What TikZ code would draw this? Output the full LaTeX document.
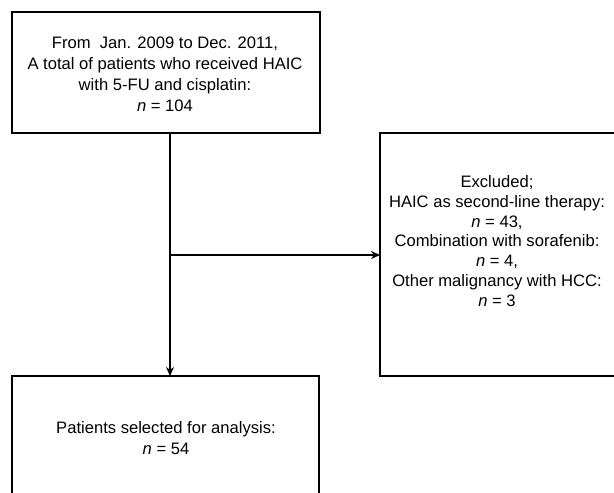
\documentclass[tikz,border=0pt]{standalone}
\usepackage{fontspec}
\setmainfont{Liberation Sans}
\usetikzlibrary{arrows.meta}
\begin{document}
\begin{tikzpicture}[x=1pt,y=-1pt,
  boxline/.style={draw=black,line width=1.9pt},
  txt/.style={align=center,font=\fontsize{16.6}{21}\selectfont,inner sep=0pt},
  conn/.style={line width=1.9pt,-{Stealth[length=9pt,width=8pt]}}]
\useasboundingbox (0,0) rectangle (614,493);
\begin{scope}
\clip (0,0) rectangle (614,493);
\draw[boxline] (12,12) rectangle (320,133);
\draw[boxline] (380,133) rectangle (625,376);
\draw[boxline] (12,376) rectangle (319,505);
\end{scope}
\node[txt] (top) at (165,74) {From \ Jan. 2009 to Dec. 2011,\\A total of patients who received HAIC\\with 5-FU and cisplatin:\\\textit{n} = 104};
\node[txt,font=\fontsize{16.6}{19.7}\selectfont] (excl) at (497,241) {Excluded;\\HAIC as second-line therapy:\\\textit{n} = 43,\\Combination with sorafenib:\\\textit{n} = 4,\\Other malignancy with HCC:\\\textit{n} = 3};
\node[txt] (sel) at (166,438) {Patients selected for analysis:\\\textit{n} = 54};
\coordinate (a) at (170,133);
\coordinate (b) at (170,376);
\coordinate (j) at (170,255);
\coordinate (c) at (380,255);
\draw[conn] (a) -- (b);
\draw[conn] (j) -- (c);
\end{tikzpicture}
\end{document}
